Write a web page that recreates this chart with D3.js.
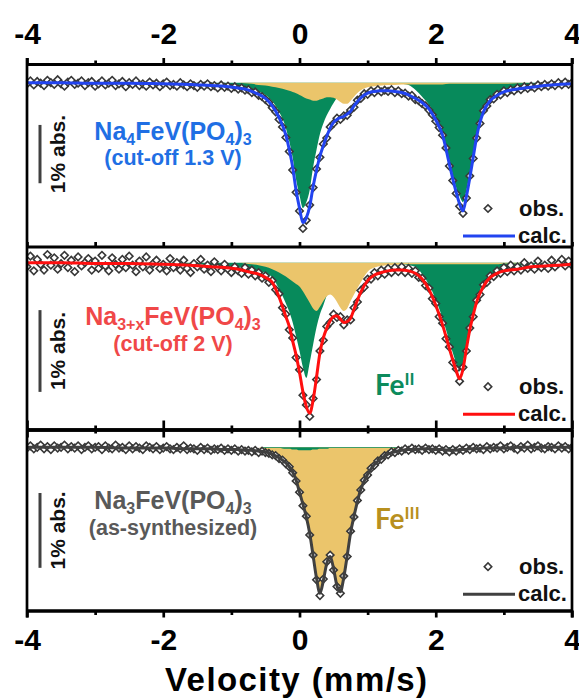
<!DOCTYPE html>
<html lang="en">
<head>
  <meta charset="UTF-8">
  <title>Mössbauer spectra</title>
  <script src="https://d3js.org/d3.v7.min.js"></script>
  <style>
    html, body { margin: 0; padding: 0; background: #fff; }
    svg { display: block; }
  </style>
</head>
<body>
<svg id="chart" width="579" height="700"></svg>
<script>
  // velocity grid of the fitted curves (mm/s)
  const fitVelocity = [
    -4.0, -3.5, -3.0, -2.5, -2.0, -1.6, -1.3, -1.1, -0.9, -0.8,
    -0.7, -0.6, -0.5, -0.4, -0.3, -0.2, -0.15, -0.1, -0.05, 0.0,
    0.05, 0.1, 0.15, 0.2, 0.25, 0.3, 0.35, 0.4, 0.45, 0.5,
    0.55, 0.6, 0.65, 0.7, 0.75, 0.8, 0.9, 1.0, 1.1, 1.2,
    1.3, 1.4, 1.5, 1.6, 1.7, 1.8, 1.9, 2.0, 2.1, 2.2,
    2.25, 2.3, 2.35, 2.4, 2.45, 2.5, 2.55, 2.6, 2.7, 2.8,
    2.9, 3.0, 3.2, 3.4, 3.6, 3.8, 4.0
  ];

  // absorption (%), positive = downwards
  // Na4FeV(PO4)3, cut-off 1.3 V
  const calcNa4 = [
    0.00, 0.00, 0.01, 0.01, 0.02, 0.03, 0.05, 0.06, 0.09, 0.11,
    0.15, 0.20, 0.27, 0.40, 0.60, 0.90, 1.15, 1.45, 1.85, 2.15,
    2.40, 2.32, 2.12, 1.78, 1.50, 1.26, 1.08, 0.92, 0.78, 0.68,
    0.63, 0.60, 0.58, 0.54, 0.49, 0.40, 0.26, 0.18, 0.15, 0.14,
    0.14, 0.15, 0.17, 0.21, 0.27, 0.34, 0.45, 0.64, 0.90, 1.40,
    1.65, 1.88, 2.08, 2.20, 1.95, 1.63, 1.28, 0.93, 0.50, 0.31,
    0.22, 0.16, 0.11, 0.08, 0.05, 0.03, 0.02
  ];
  const fe2Na4 = [
    0.00, 0.00, 0.00, 0.01, 0.01, 0.02, 0.03, 0.04, 0.06, 0.08,
    0.11, 0.15, 0.21, 0.32, 0.50, 0.78, 1.01, 1.29, 1.66, 1.93,
    2.15, 2.05, 1.84, 1.45, 1.15, 0.88, 0.70, 0.56, 0.45, 0.35,
    0.26, 0.19, 0.13, 0.09, 0.06, 0.04, 0.02, 0.01, 0.01, 0.01,
    0.01, 0.01, 0.02, 0.04, 0.12, 0.24, 0.38, 0.58, 0.85, 1.33,
    1.58, 1.80, 1.95, 2.05, 1.85, 1.55, 1.22, 0.88, 0.46, 0.26,
    0.17, 0.12, 0.07, 0.03, 0.01, 0.00, 0.00
  ];
  const fe3Na4 = [
    0.00, 0.00, 0.00, 0.00, 0.00, 0.00, 0.00, 0.00, 0.00, 0.01,
    0.02, 0.04, 0.05, 0.07, 0.09, 0.12, 0.14, 0.16, 0.18, 0.21,
    0.24, 0.27, 0.29, 0.31, 0.31, 0.29, 0.27, 0.25, 0.25, 0.26,
    0.29, 0.33, 0.36, 0.36, 0.31, 0.24, 0.13, 0.08, 0.06, 0.05,
    0.04, 0.04, 0.03, 0.03, 0.03, 0.03, 0.03, 0.03, 0.03, 0.02,
    0.02, 0.02, 0.02, 0.02, 0.02, 0.02, 0.02, 0.02, 0.02, 0.02,
    0.02, 0.02, 0.01, 0.00, 0.00, 0.00, 0.00
  ];

  // Na3+xFeV(PO4)3, cut-off 2 V
  const calcNa3x = [
    0.00, 0.00, 0.01, 0.01, 0.02, 0.03, 0.05, 0.06, 0.08, 0.10,
    0.12, 0.14, 0.18, 0.24, 0.42, 0.66, 0.78, 0.96, 1.13, 1.34,
    1.58, 1.76, 1.84, 1.68, 1.40, 1.10, 0.92, 0.80, 0.71, 0.66,
    0.65, 0.69, 0.73, 0.72, 0.68, 0.57, 0.36, 0.22, 0.15, 0.12,
    0.10, 0.09, 0.09, 0.10, 0.13, 0.20, 0.33, 0.52, 0.76, 1.05,
    1.19, 1.32, 1.42, 1.30, 1.05, 0.82, 0.64, 0.48, 0.29, 0.18,
    0.13, 0.10, 0.08, 0.05, 0.04, 0.03, 0.02
  ];
  const fe2Na3x = [
    0.00, 0.00, 0.01, 0.01, 0.01, 0.02, 0.03, 0.04, 0.05, 0.06,
    0.08, 0.10, 0.13, 0.18, 0.32, 0.50, 0.60, 0.73, 0.90, 1.08,
    1.28, 1.41, 1.22, 1.00, 0.79, 0.63, 0.52, 0.40, 0.30, 0.22,
    0.16, 0.12, 0.09, 0.07, 0.05, 0.04, 0.03, 0.02, 0.02, 0.02,
    0.02, 0.02, 0.02, 0.03, 0.05, 0.14, 0.27, 0.45, 0.68, 0.96,
    1.10, 1.23, 1.33, 1.22, 0.99, 0.77, 0.59, 0.44, 0.25, 0.15,
    0.10, 0.07, 0.04, 0.02, 0.01, 0.00, 0.00
  ];
  const fe3Na3x = [
    0.00, 0.00, 0.00, 0.00, 0.00, 0.00, 0.00, 0.00, 0.00, 0.01,
    0.02, 0.03, 0.05, 0.08, 0.12, 0.17, 0.20, 0.23, 0.26, 0.29,
    0.35, 0.42, 0.49, 0.56, 0.59, 0.54, 0.47, 0.41, 0.39, 0.42,
    0.48, 0.55, 0.59, 0.56, 0.47, 0.39, 0.24, 0.11, 0.06, 0.04,
    0.03, 0.03, 0.02, 0.02, 0.02, 0.02, 0.02, 0.02, 0.02, 0.02,
    0.02, 0.02, 0.02, 0.02, 0.02, 0.02, 0.02, 0.02, 0.02, 0.02,
    0.02, 0.01, 0.01, 0.00, 0.00, 0.00, 0.00
  ];

  // Na3FeV(PO4)3, as-synthesized
  const calcNa3 = [
    0.00, 0.00, 0.00, 0.01, 0.01, 0.02, 0.02, 0.03, 0.03, 0.04,
    0.04, 0.05, 0.06, 0.09, 0.14, 0.21, 0.26, 0.33, 0.44, 0.60,
    0.76, 0.93, 1.15, 1.45, 1.75, 1.95, 1.78, 1.55, 1.46, 1.62,
    1.85, 1.93, 1.74, 1.45, 1.14, 0.92, 0.56, 0.36, 0.23, 0.15,
    0.09, 0.06, 0.04, 0.03, 0.03, 0.02, 0.02, 0.03, 0.03, 0.04,
    0.04, 0.04, 0.03, 0.03, 0.03, 0.02, 0.02, 0.02, 0.01, 0.01,
    0.01, 0.01, 0.00, 0.00, 0.00, 0.00, 0.00
  ];
  const fe2Na3 = [
    0.00, 0.00, 0.00, 0.00, 0.00, 0.00, 0.00, 0.00, 0.00, 0.00,
    0.00, 0.00, 0.01, 0.01, 0.01, 0.02, 0.02, 0.03, 0.03, 0.04,
    0.04, 0.04, 0.04, 0.03, 0.03, 0.02, 0.02, 0.02, 0.01, 0.01,
    0.01, 0.01, 0.01, 0.01, 0.01, 0.01, 0.01, 0.01, 0.01, 0.01,
    0.01, 0.01, 0.01, 0.01, 0.01, 0.01, 0.01, 0.02, 0.03, 0.04,
    0.04, 0.04, 0.03, 0.03, 0.03, 0.02, 0.02, 0.02, 0.01, 0.01,
    0.01, 0.01, 0.00, 0.00, 0.00, 0.00, 0.00
  ];
  const fe3Na3 = [
    0.00, 0.00, 0.00, 0.00, 0.00, 0.00, 0.00, 0.00, 0.00, 0.00,
    0.00, 0.00, 0.05, 0.08, 0.13, 0.19, 0.24, 0.30, 0.41, 0.56,
    0.72, 0.89, 1.11, 1.42, 1.72, 1.93, 1.76, 1.53, 1.45, 1.61,
    1.84, 1.92, 1.73, 1.44, 1.13, 0.91, 0.55, 0.35, 0.22, 0.14,
    0.08, 0.05, 0.03, 0.02, 0.02, 0.01, 0.01, 0.00, 0.00, 0.00,
    0.00, 0.00, 0.00, 0.00, 0.00, 0.00, 0.00, 0.00, 0.00, 0.00,
    0.00, 0.00, 0.00, 0.00, 0.00, 0.00, 0.00
  ];

  // measured channels (mm/s), one row per mm/s
  const obsVelocity = [
    -4.00, -3.95, -3.90, -3.85, -3.80, -3.75, -3.70, -3.65, -3.60, -3.55, -3.50, -3.45, -3.40, -3.35, -3.30, -3.25, -3.20, -3.15, -3.10, -3.05,
    -3.00, -2.95, -2.90, -2.85, -2.80, -2.75, -2.70, -2.65, -2.60, -2.55, -2.50, -2.45, -2.40, -2.35, -2.30, -2.25, -2.20, -2.15, -2.10, -2.05,
    -2.00, -1.95, -1.90, -1.85, -1.80, -1.75, -1.70, -1.65, -1.60, -1.55, -1.50, -1.45, -1.40, -1.35, -1.30, -1.25, -1.20, -1.15, -1.10, -1.05,
    -1.00, -0.95, -0.90, -0.85, -0.80, -0.75, -0.70, -0.65, -0.60, -0.55, -0.50, -0.45, -0.40, -0.35, -0.30, -0.25, -0.20, -0.15, -0.10, -0.05,
    0.00, 0.05, 0.10, 0.15, 0.20, 0.25, 0.30, 0.35, 0.40, 0.45, 0.50, 0.55, 0.60, 0.65, 0.70, 0.75, 0.80, 0.85, 0.90, 0.95,
    1.00, 1.05, 1.10, 1.15, 1.20, 1.25, 1.30, 1.35, 1.40, 1.45, 1.50, 1.55, 1.60, 1.65, 1.70, 1.75, 1.80, 1.85, 1.90, 1.95,
    2.00, 2.05, 2.10, 2.15, 2.20, 2.25, 2.30, 2.35, 2.40, 2.45, 2.50, 2.55, 2.60, 2.65, 2.70, 2.75, 2.80, 2.85, 2.90, 2.95,
    3.00, 3.05, 3.10, 3.15, 3.20, 3.25, 3.30, 3.35, 3.40, 3.45, 3.50, 3.55, 3.60, 3.65, 3.70, 3.75, 3.80, 3.85, 3.90, 3.95,
    4.00
  ];
  const obsNa4 = [
    0.02, -0.03, 0.04, -0.02, 0.01, 0.05, -0.04, 0.00, 0.03, -0.05, 0.02, 0.06, -0.01, -0.04, 0.03, 0.01, -0.03, 0.05, 0.00, -0.02,
    0.06, 0.02, -0.03, 0.04, 0.01, -0.04, 0.05, 0.02, -0.02, 0.07, 0.00, 0.03, -0.03, 0.05, 0.02, 0.06, -0.01, 0.04, 0.01, 0.07,
    0.02, -0.01, 0.05, 0.03, 0.06, 0.00, 0.04, 0.07, 0.02, 0.05, 0.08, 0.03, 0.06, 0.02, 0.07, 0.05, 0.09, 0.04, 0.08, 0.06,
    0.10, 0.07, 0.11, 0.09, 0.13, 0.12, 0.17, 0.16, 0.22, 0.24, 0.29, 0.34, 0.43, 0.50, 0.63, 0.76, 0.94, 1.18, 1.50, 1.88,
    2.20, 2.50, 2.36, 2.10, 1.80, 1.48, 1.28, 1.05, 0.95, 0.76, 0.70, 0.61, 0.63, 0.57, 0.56, 0.47, 0.42, 0.30, 0.27, 0.19,
    0.20, 0.14, 0.17, 0.12, 0.16, 0.13, 0.15, 0.12, 0.17, 0.14, 0.19, 0.18, 0.23, 0.22, 0.29, 0.31, 0.36, 0.40, 0.47, 0.55,
    0.66, 0.77, 0.90, 1.12, 1.43, 1.68, 1.90, 2.12, 2.24, 1.98, 1.60, 1.30, 0.95, 0.70, 0.48, 0.40, 0.29, 0.28, 0.20, 0.21,
    0.14, 0.17, 0.12, 0.14, 0.09, 0.12, 0.07, 0.10, 0.06, 0.09, 0.04, 0.07, 0.03, 0.06, 0.02, 0.05, 0.00, 0.04, -0.01, 0.03,
    0.00
  ];
  const obsNa3x = [
    0.05, -0.08, 0.10, -0.04, 0.02, 0.09, -0.10, 0.03, -0.06, 0.08, 0.01, -0.09, 0.06, -0.03, 0.11, -0.07, 0.04, 0.00, -0.05, 0.09,
    -0.02, 0.07, -0.09, 0.04, 0.10, -0.06, 0.02, 0.08, -0.04, 0.06, -0.08, 0.03, 0.11, -0.02, 0.05, -0.07, 0.09, 0.01, -0.03, 0.07,
    0.02, 0.10, -0.05, 0.06, 0.00, 0.09, -0.03, 0.07, 0.12, 0.01, 0.05, -0.04, 0.08, 0.03, 0.11, -0.01, 0.06, 0.10, 0.02, 0.08,
    0.12, 0.05, 0.10, 0.13, 0.06, 0.14, 0.09, 0.16, 0.12, 0.19, 0.16, 0.24, 0.22, 0.33, 0.38, 0.55, 0.63, 0.82, 0.92, 1.16,
    1.31, 1.62, 1.74, 1.88, 1.66, 1.43, 1.08, 0.95, 0.78, 0.73, 0.63, 0.67, 0.66, 0.76, 0.70, 0.70, 0.55, 0.48, 0.34, 0.30,
    0.20, 0.20, 0.12, 0.16, 0.09, 0.14, 0.07, 0.12, 0.06, 0.11, 0.05, 0.12, 0.07, 0.13, 0.10, 0.18, 0.19, 0.28, 0.31, 0.44,
    0.50, 0.66, 0.74, 0.93, 1.03, 1.22, 1.30, 1.45, 1.28, 1.08, 0.80, 0.66, 0.46, 0.39, 0.27, 0.24, 0.16, 0.17, 0.10, 0.13,
    0.06, 0.11, 0.03, 0.10, 0.05, 0.09, 0.00, 0.07, 0.04, 0.08, -0.02, 0.06, 0.03, 0.07, -0.03, 0.05, 0.01, -0.04, 0.04, -0.02,
    0.03
  ];
  const obsNa3 = [
    0.01, -0.02, 0.02, 0.00, -0.03, 0.02, -0.01, 0.03, -0.02, 0.01, 0.00, -0.03, 0.02, -0.01, 0.01, -0.02, 0.03, 0.00, -0.02, 0.02,
    0.00, -0.01, 0.03, -0.02, 0.01, 0.02, -0.03, 0.01, 0.00, 0.03, -0.02, 0.02, -0.01, 0.01, 0.03, -0.02, 0.00, 0.02, -0.01, 0.03,
    0.01, -0.01, 0.02, 0.03, 0.00, 0.02, -0.02, 0.03, 0.01, 0.02, 0.04, 0.00, 0.03, 0.01, 0.04, 0.02, 0.03, 0.01, 0.04, 0.02,
    0.04, 0.02, 0.05, 0.03, 0.05, 0.04, 0.06, 0.04, 0.07, 0.05, 0.07, 0.08, 0.10, 0.11, 0.15, 0.17, 0.22, 0.26, 0.34, 0.45,
    0.60, 0.78, 0.92, 1.17, 1.44, 1.77, 1.98, 1.76, 1.53, 1.44, 1.64, 1.86, 1.95, 1.72, 1.46, 1.12, 0.93, 0.71, 0.57, 0.44,
    0.37, 0.28, 0.24, 0.18, 0.16, 0.11, 0.10, 0.06, 0.07, 0.04, 0.05, 0.02, 0.04, 0.01, 0.03, 0.02, 0.04, 0.01, 0.03, 0.02,
    0.04, 0.02, 0.05, 0.03, 0.06, 0.03, 0.05, 0.02, 0.04, 0.01, 0.03, 0.00, 0.02, 0.01, 0.03, -0.01, 0.02, 0.00, 0.01, -0.02,
    0.02, 0.00, -0.02, 0.01, 0.03, -0.01, 0.01, -0.03, 0.02, 0.00, -0.02, 0.01, 0.02, -0.01, 0.00, 0.02, -0.02, 0.01, -0.01, 0.02,
    0.00
  ];

  const majorTicks = [-4, -2, 0, 2, 4];
  const minorTicks = [-3, -1, 1, 3];

  const GREEN = "#078a5b";
  const YELLOW = "#ebc56b";
  const BOLD = "'Liberation Sans', Arial, sans-serif";

  // one entry per stacked panel (top to bottom)
  const panels = [
    {
      top: 64, bottom: 246.5, dMin: -0.32, dMax: 2.81,
      calc: calcNa4, obs: obsNa4,
      fills: [{ data: fe2Na4, color: GREEN }, { data: fe3Na4, color: YELLOW }],
      lineColor: "#2244f0", textColor: "#1f6fe4",
      name: [["Na"], ["4", true], ["FeV(PO"], ["4", true], [")"], ["3", true]],
      note: "(cut-off 1.3 V)", nameY: 140, noteY: 165,
      barFrom: 0.725, legendY: 208.5
    },
    {
      top: 246.5, bottom: 429.5, dMin: -0.198, dMax: 2.04,
      calc: calcNa3x, obs: obsNa3x,
      fills: [{ data: fe2Na3x, color: GREEN }, { data: fe3Na3x, color: YELLOW }],
      lineColor: "#ff0f0f", textColor: "#f04848",
      name: [["Na"], ["3+x", true], ["FeV(PO"], ["4", true], [")"], ["3", true]],
      note: "(cut-off 2 V)", nameY: 325, noteY: 351,
      barFrom: 0.58, legendY: 386.7
    },
    {
      top: 429.5, bottom: 610.5, dMin: -0.238, dMax: 2.18,
      calc: calcNa3, obs: obsNa3,
      fills: [{ data: fe3Na3, color: YELLOW }, { data: fe2Na3, color: GREEN }],
      lineColor: "#404040", textColor: "#595959",
      name: [["Na"], ["3", true], ["FeV(PO"], ["4", true], [")"], ["3", true]],
      note: "(as-synthesized)", nameY: 509, noteY: 534.5,
      barFrom: 0.61, legendY: 566.7
    }
  ];

  const svg = d3.select("#chart");
  svg.append("rect").attr("width", 579).attr("height", 700).attr("fill", "#fff");

  const x = d3.scaleLinear().domain([-4, 4]).range([27, 572]);
  const diamond = d3.symbol(d3.symbolSquare, 28)();

  panels.forEach((p, i) => {
    const y = d3.scaleLinear().domain([p.dMin, p.dMax]).range([p.top, p.bottom]);

    svg.append("clipPath").attr("id", "clip" + i)
      .append("rect")
      .attr("x", x(-4)).attr("y", p.top)
      .attr("width", x(4) - x(-4)).attr("height", p.bottom - p.top);

    const g = svg.append("g").attr("clip-path", `url(#clip${i})`);

    // component fills, from the baseline down to each sub-spectrum
    p.fills.forEach(f => {
      const area = d3.area()
        .x((d, k) => x(fitVelocity[k]))
        .y0(y(0))
        .y1(d => y(d))
        .curve(d3.curveMonotoneX);
      g.append("path").datum(f.data).attr("fill", f.color).attr("d", area);
    });

    // observed points
    g.selectAll(".obs")
      .data(p.obs)
      .join("path")
      .attr("class", "obs")
      .attr("d", diamond)
      .attr("transform", (d, k) => `translate(${x(obsVelocity[k])},${y(d)}) rotate(45)`)
      .attr("fill", "#fff")
      .attr("stroke", "#383838")
      .attr("stroke-width", 1.6);

    // fitted envelope
    const line = d3.line()
      .x((d, k) => x(fitVelocity[k]))
      .y(d => y(d))
      .curve(d3.curveMonotoneX);
    g.append("path").datum(p.calc)
      .attr("fill", "none")
      .attr("stroke", p.lineColor)
      .attr("stroke-width", 3)
      .attr("stroke-linejoin", "round")
      .attr("d", line);

    // 1 % absorption bar
    const barTop = y(p.barFrom), barBot = y(p.barFrom + 1);
    svg.append("line")
      .attr("x1", 40).attr("x2", 40)
      .attr("y1", barTop).attr("y2", barBot)
      .attr("stroke", "#404040").attr("stroke-width", 3);
    svg.append("text")
      .attr("transform", `translate(65,${(barTop + barBot) / 2}) rotate(-90)`)
      .attr("text-anchor", "middle")
      .attr("font-family", BOLD).attr("font-weight", "bold").attr("font-size", 21)
      .attr("fill", "#111")
      .text("1% abs.");

    // sample name
    const t = svg.append("text")
      .attr("x", 173).attr("y", p.nameY)
      .attr("text-anchor", "middle")
      .attr("font-family", BOLD).attr("font-weight", "bold").attr("font-size", 25)
      .attr("fill", p.textColor);
    let shifted = false;
    p.name.forEach(([s, sub]) => {
      const span = t.append("tspan").text(s);
      if (sub && !shifted) { span.attr("dy", 5).attr("font-size", 16); shifted = true; }
      else if (sub) { span.attr("font-size", 16); }
      else if (shifted) { span.attr("dy", -5); shifted = false; }
    });
    svg.append("text")
      .attr("x", 173).attr("y", p.noteY)
      .attr("text-anchor", "middle")
      .attr("font-family", BOLD).attr("font-weight", "bold").attr("font-size", 21.5)
      .attr("fill", p.textColor)
      .text(p.note);

    // legend
    svg.append("path")
      .attr("d", diamond)
      .attr("transform", `translate(488,${p.legendY}) rotate(45)`)
      .attr("fill", "#fff").attr("stroke", "#383838").attr("stroke-width", 1.6);
    svg.append("text")
      .attr("x", 519).attr("y", p.legendY + 7.5)
      .attr("font-family", BOLD).attr("font-weight", "bold").attr("font-size", 22)
      .attr("fill", "#111").text("obs.");
    svg.append("line")
      .attr("x1", 463).attr("x2", 515)
      .attr("y1", p.legendY + 27.5).attr("y2", p.legendY + 27.5)
      .attr("stroke", p.lineColor).attr("stroke-width", 3);
    svg.append("text")
      .attr("x", 518).attr("y", p.legendY + 34)
      .attr("font-family", BOLD).attr("font-weight", "bold").attr("font-size", 22)
      .attr("fill", "#111").text("calc.");
  });

  // site labels
  const feLabel = (txt, sup, xPos, yPos, color) => {
    const t = svg.append("text")
      .attr("x", xPos).attr("y", yPos)
      .attr("font-family", "Lato, 'Open Sans', sans-serif")
      .attr("font-weight", "bold").attr("font-size", 28)
      .attr("fill", color);
    t.append("tspan").text(txt);
    t.append("tspan").attr("dy", -10).attr("font-size", 17).text(sup);
  };
  feLabel("Fe", "II", 375, 395, "#0c8b5c");
  feLabel("Fe", "III", 375, 529, "#b8901e");

  // axes and frame
  const styleAxis = sel => {
    sel.select(".domain").attr("stroke", "#000").attr("stroke-width", 3);
    sel.selectAll(".tick line").attr("stroke", "#000").attr("stroke-width", 2.7);
    sel.selectAll(".tick text")
      .attr("font-family", BOLD).attr("font-weight", "bold")
      .attr("font-size", 30).attr("fill", "#000");
  };
  const addAxis = (axis, yPos) => svg.append("g")
    .attr("transform", `translate(0,${yPos})`)
    .call(axis.tickSizeOuter(0))
    .call(styleAxis);
  const noLabel = () => "";

  // top axis (labels outside)
  addAxis(d3.axisTop(x).tickValues(majorTicks).tickSize(6).tickPadding(14.5).tickFormat(d => String(d)), 64);
  addAxis(d3.axisTop(x).tickValues(minorTicks).tickSize(3.5).tickFormat(noLabel), 64);
  // between panels 1 and 2: ticks pointing into panel 1
  addAxis(d3.axisTop(x).tickValues(majorTicks.concat(minorTicks)).tickSize(4.5).tickFormat(noLabel), 246.5);
  // between panels 2 and 3: ticks on both sides
  addAxis(d3.axisTop(x).tickValues(majorTicks).tickSize(9).tickFormat(noLabel), 429.5);
  addAxis(d3.axisBottom(x).tickValues(majorTicks).tickSize(8).tickFormat(noLabel), 429.5);
  addAxis(d3.axisTop(x).tickValues(minorTicks).tickSize(4).tickFormat(noLabel), 429.5);
  addAxis(d3.axisBottom(x).tickValues(minorTicks).tickSize(4).tickFormat(noLabel), 429.5);
  // bottom axis (labels outside)
  addAxis(d3.axisBottom(x).tickValues(majorTicks).tickSize(7).tickPadding(11.5).tickFormat(d => String(d)), 610.5);
  addAxis(d3.axisBottom(x).tickValues(minorTicks).tickSize(4.5).tickFormat(noLabel), 610.5);

  [x(-4), x(4)].forEach(xp => {
    svg.append("line")
      .attr("x1", xp).attr("x2", xp)
      .attr("y1", 58).attr("y2", 617.5)
      .attr("stroke", "#000").attr("stroke-width", 2.7);
  });

  svg.append("text")
    .attr("x", 296).attr("y", 691)
    .attr("text-anchor", "middle")
    .attr("font-family", BOLD).attr("font-weight", "bold").attr("font-size", 33)
    .attr("textLength", 262).attr("lengthAdjust", "spacing")
    .attr("fill", "#000")
    .text("Velocity (mm/s)");
</script>
</body>
</html>
